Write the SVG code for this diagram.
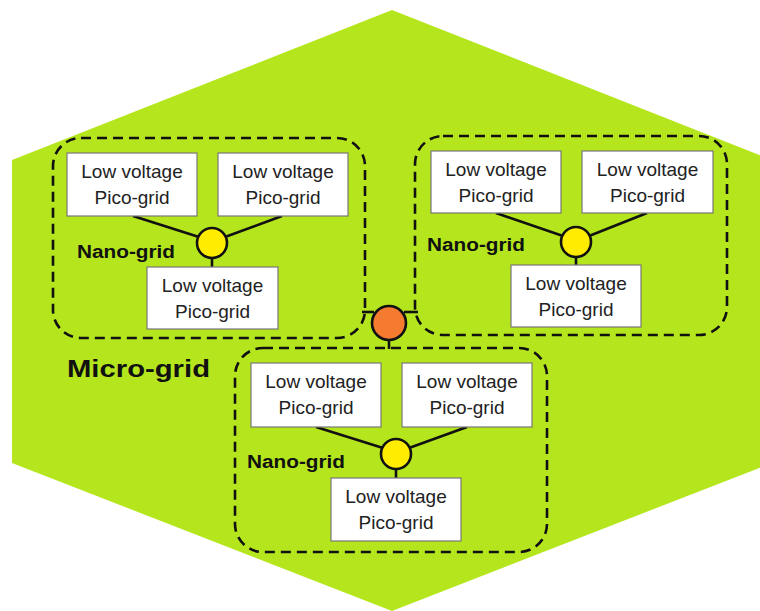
<svg xmlns="http://www.w3.org/2000/svg" width="760" height="611" viewBox="0 0 760 611">
  <style>
    .hex { fill: #b5e61d; }
    .nano { fill: none; stroke: #111; stroke-width: 2.6; stroke-dasharray: 10 6; }
    .pico { fill: #fff; stroke: #777; stroke-width: 1.2; }
    .pt { font-family: "Liberation Sans", Arial, sans-serif; font-size: 19px; fill: #222; text-anchor: middle; }
    .nl { font-family: "Liberation Sans", Arial, sans-serif; font-weight: bold; font-size: 18px; fill: #111; }
    .ml { font-family: "Liberation Sans", Arial, sans-serif; font-weight: bold; font-size: 24px; fill: #111; }
    .wire { stroke: #111; stroke-width: 2.6; fill: none; }
    .hub { fill: #ffec00; stroke: #111; stroke-width: 2.6; }
    .main-hub { fill: #f47b30; stroke: #111; stroke-width: 2.6; }
  </style>

  <!-- Micro-grid area -->
  <g id="micro-grid">
    <polygon class="hex" points="392,10 772,160 772,463 392,611 12,463 12,160"/>
    <text class="ml" x="67" y="377" textLength="143" lengthAdjust="spacingAndGlyphs">Micro-grid</text>
  </g>

  <!-- Connectors -->
  <g id="connectors">
    <!-- nano-grid 1 -->
    <line class="wire" x1="133" y1="216" x2="199" y2="237"/>
    <line class="wire" x1="282" y1="216" x2="225" y2="237"/>
    <line class="wire" x1="212" y1="258" x2="212" y2="267"/>
    <!-- nano-grid 2 -->
    <line class="wire" x1="496" y1="213" x2="563" y2="236"/>
    <line class="wire" x1="647" y1="213" x2="589" y2="236"/>
    <line class="wire" x1="576" y1="257" x2="576" y2="265"/>
    <!-- nano-grid 3 -->
    <line class="wire" x1="316" y1="427" x2="383" y2="448"/>
    <line class="wire" x1="467" y1="427" x2="409" y2="448"/>
    <line class="wire" x1="396" y1="469" x2="396" y2="478"/>
    <!-- micro-grid hub links -->
    <line class="wire" x1="362" y1="312" x2="374" y2="312"/>
    <line class="wire" x1="404" y1="312" x2="418" y2="312"/>
    <line class="wire" x1="389" y1="340" x2="389" y2="349"/>
  </g>

  <!-- Nano-grid 1 -->
  <g id="nano-grid-1">
    <rect class="nano" x="53" y="138" width="312" height="200" rx="28"/>
    <text class="nl" x="77" y="258" textLength="98" lengthAdjust="spacingAndGlyphs">Nano-grid</text>
    <circle class="hub" cx="212" cy="243" r="15"/>
  </g>
  <g id="pico-1a">
    <rect class="pico" x="67" y="153" width="130" height="63"/>
    <text class="pt" x="132" y="178">Low voltage</text>
    <text class="pt" x="132" y="204">Pico-grid</text>
  </g>
  <g id="pico-1b">
    <rect class="pico" x="218" y="153" width="130" height="63"/>
    <text class="pt" x="283" y="178">Low voltage</text>
    <text class="pt" x="283" y="204">Pico-grid</text>
  </g>
  <g id="pico-1c">
    <rect class="pico" x="147" y="267" width="131" height="62"/>
    <text class="pt" x="212.5" y="292">Low voltage</text>
    <text class="pt" x="212.5" y="318">Pico-grid</text>
  </g>

  <!-- Nano-grid 2 -->
  <g id="nano-grid-2">
    <rect class="nano" x="415" y="136" width="312" height="199" rx="28"/>
    <text class="nl" x="427" y="251" textLength="98" lengthAdjust="spacingAndGlyphs">Nano-grid</text>
    <circle class="hub" cx="576" cy="242" r="15"/>
  </g>
  <g id="pico-2a">
    <rect class="pico" x="431" y="151" width="130" height="62"/>
    <text class="pt" x="496" y="176">Low voltage</text>
    <text class="pt" x="496" y="202">Pico-grid</text>
  </g>
  <g id="pico-2b">
    <rect class="pico" x="582" y="151" width="131" height="62"/>
    <text class="pt" x="647.5" y="176">Low voltage</text>
    <text class="pt" x="647.5" y="202">Pico-grid</text>
  </g>
  <g id="pico-2c">
    <rect class="pico" x="511" y="265" width="130" height="62"/>
    <text class="pt" x="576" y="290">Low voltage</text>
    <text class="pt" x="576" y="316">Pico-grid</text>
  </g>

  <!-- Nano-grid 3 -->
  <g id="nano-grid-3">
    <rect class="nano" x="235" y="348" width="312" height="204" rx="28"/>
    <text class="nl" x="247" y="468" textLength="98" lengthAdjust="spacingAndGlyphs">Nano-grid</text>
    <circle class="hub" cx="396" cy="454" r="15"/>
  </g>
  <g id="pico-3a">
    <rect class="pico" x="251" y="363" width="130" height="64"/>
    <text class="pt" x="316" y="388">Low voltage</text>
    <text class="pt" x="316" y="414">Pico-grid</text>
  </g>
  <g id="pico-3b">
    <rect class="pico" x="402" y="363" width="130" height="64"/>
    <text class="pt" x="467" y="388">Low voltage</text>
    <text class="pt" x="467" y="414">Pico-grid</text>
  </g>
  <g id="pico-3c">
    <rect class="pico" x="331" y="478" width="130" height="63"/>
    <text class="pt" x="396" y="503">Low voltage</text>
    <text class="pt" x="396" y="529">Pico-grid</text>
  </g>

  <!-- Micro-grid hub -->
  <g id="micro-hub">
    <circle class="main-hub" cx="389" cy="323" r="17"/>
  </g>
</svg>
